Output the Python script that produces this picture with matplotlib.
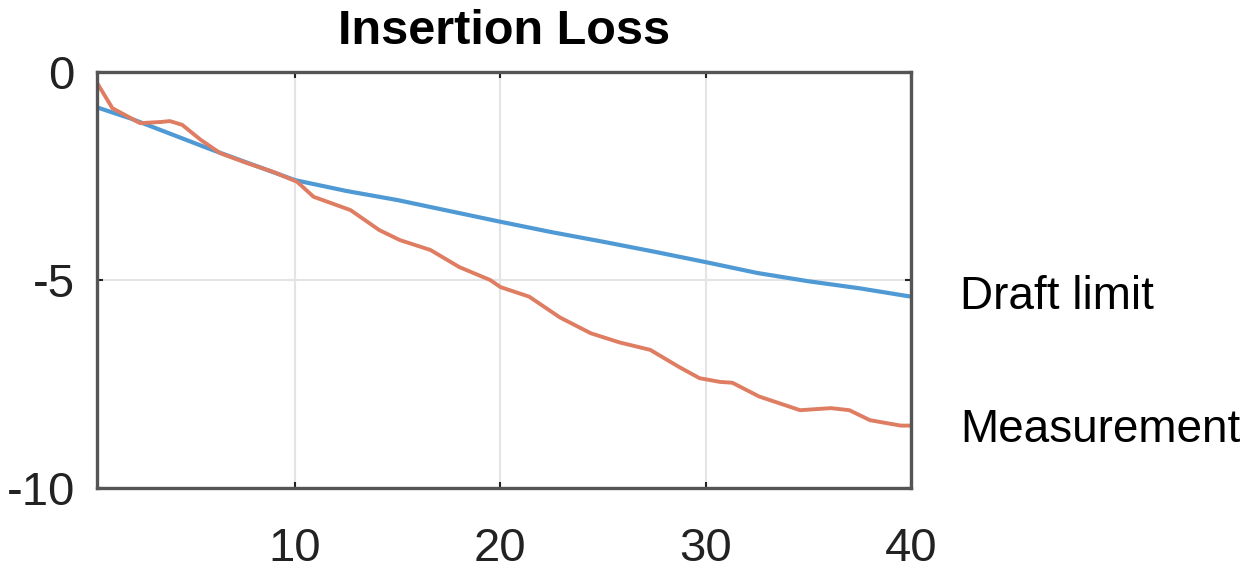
import matplotlib.pyplot as plt

plt.rcParams['font.family'] = ['Liberation Sans', 'DejaVu Sans']
plt.rcParams['axes.unicode_minus'] = False

# draft limit curve
limit_x = [0.35, 2, 4, 6, 8, 10, 12.5, 15, 17.5, 20, 22.5, 25, 27.5, 30, 32.5, 35, 37.5, 40]
limit_y = [-0.85, -1.12, -1.5, -1.88, -2.24, -2.6, -2.86, -3.08, -3.34, -3.6, -3.85, -4.08,
           -4.32, -4.57, -4.83, -5.03, -5.2, -5.4]

# measured insertion loss
meas_x = [0.35, 1.1, 2.45, 3.5, 3.9, 4.5, 5.4, 6.35, 7.66, 8.93, 10.1, 10.9, 12.7, 14.1, 15.1,
          16.6, 18.0, 19.5, 20.0, 21.4, 22.9, 24.4, 25.8, 27.3, 28.7, 29.7, 30.7, 31.3, 32.6,
          34.6, 36.1, 37.0, 38.0, 39.5, 40.0]
meas_y = [-0.26, -0.87, -1.23, -1.2, -1.18, -1.27, -1.63, -1.95, -2.19, -2.4, -2.64, -3.0,
          -3.32, -3.8, -4.04, -4.28, -4.69, -5.0, -5.17, -5.4, -5.9, -6.28, -6.5, -6.68,
          -7.09, -7.36, -7.45, -7.47, -7.8, -8.13, -8.08, -8.13, -8.37, -8.5, -8.5]

labels = ["Draft limit", "Measurement"]

fig = plt.figure(figsize=(12.6, 5.7), dpi=100)
ax = fig.add_axes([97/1260, 1 - 488/570, (911 - 97)/1260, (488 - 72)/570])

ax.plot(limit_x, limit_y, color='#4f9ad4', lw=3.0, solid_joinstyle='round')
ax.plot(meas_x, meas_y, color='#df7d62', lw=2.8, solid_joinstyle='round')

ax.set_xlim(0.35, 40)
ax.set_ylim(-10, 0)
ax.set_xticks([10, 20, 30, 40])
ax.set_yticks([-10, -5, 0])
ax.grid(True, color='#e4e4e4', lw=1.5)
ax.set_axisbelow(True)

for s in ax.spines.values():
    s.set_color('#555555')
    s.set_linewidth(2.4)
ax.tick_params(direction='in', length=4, width=1.5, colors='#222222', labelsize=34,
               top=True, right=True)
ax.tick_params(axis='x', pad=28)
ax.tick_params(axis='y', pad=16)

ax.set_title("Insertion Loss", fontsize=35, fontweight='bold', pad=20)

ax.annotate(labels[0], xy=(limit_x[-1], limit_y[-1]), xytext=(49, 0),
            textcoords='offset pixels', va='center', ha='left', fontsize=33,
            annotation_clip=False)
ax.annotate(labels[1], xy=(meas_x[-1], meas_y[-1]), xytext=(49, -4),
            textcoords='offset pixels', va='center', ha='left', fontsize=33,
            annotation_clip=False)

fig.savefig("out.png", dpi=100)
